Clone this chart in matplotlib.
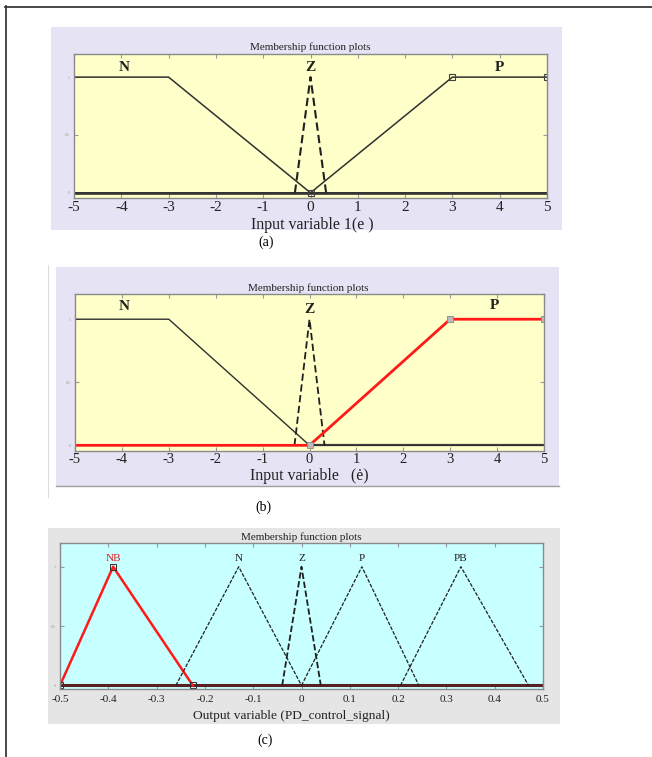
import numpy as np
import matplotlib
matplotlib.use("Agg")
import matplotlib.pyplot as plt
from matplotlib.patches import Rectangle
from matplotlib.lines import Line2D

plt.rcParams['font.family'] = ['Liberation Serif', 'DejaVu Serif']

# input variable e (panel a) - membership function breakpoints
e_N_x = [-5, -3, 0, 5]
e_N_y = [1, 1, 0, 0]
e_Z_x = [-0.33, 0, 0.33]
e_Z_y = [0, 1, 0]
e_P_x = [-5, 0, 3, 5]
e_P_y = [0, 0, 1, 1]

# input variable de (panel b)
de_N_x = [-5, -3, 0, 5]
de_N_y = [1, 1, 0, 0]
de_Z_x = [-0.32, 0, 0.32]
de_Z_y = [0, 1, 0]
de_P_x = [-5, 0, 3, 5]
de_P_y = [0, 0, 1, 1]

# output variable (panel c) - triangles [left, peak, right]
out_names = ['NB', 'N', 'Z', 'P', 'PB']
out_left = [-0.5, -0.26, -0.04, 0.0, 0.205]
out_peak = [-0.39, -0.13, 0.0, 0.125, 0.33]
out_right = [-0.225, 0.0, 0.04, 0.243, 0.47]

in_ticks = [-5, -4, -3, -2, -1, 0, 1, 2, 3, 4, 5]
out_ticks = [-0.5, -0.4, -0.3, -0.2, -0.1, 0, 0.1, 0.2, 0.3, 0.4, 0.5]
out_ticklabels = ['-0.5', '-0.4', '-0.3', '-0.2', '-0.1', '0', '0.1', '0.2', '0.3', '0.4', '0.5']

W, H = 652, 757
fig = plt.figure(figsize=(W / 100, H / 100), dpi=100)
fig.patch.set_facecolor('white')


def fx(x):
    return x / W


def fy(y):
    return 1 - y / H


def bg(l, t, r, b, color):
    fig.add_artist(Rectangle((fx(l), fy(b)), fx(r - l), (b - t) / H,
                             transform=fig.transFigure, facecolor=color,
                             edgecolor='none', zorder=-5))


def px_axes(l, t, r, b):
    return fig.add_axes([fx(l), fy(b), fx(r - l), (b - t) / H])


def style_axes(ax, face, xlim, ylim, ticks, ticklabels, tsize, tpad):
    ax.set_facecolor(face)
    ax.set_xlim(*xlim)
    ax.set_ylim(*ylim)
    ax.set_xticks(ticks)
    ax.set_xticklabels(ticklabels, fontsize=tsize, color='#222222')
    ax.set_yticks([0, 0.5, 1])
    ax.set_yticklabels(['0', '0.5', '1'])
    ax.tick_params(axis='x', direction='in', length=3, top=True, pad=tpad,
                   color='#999999')
    ax.tick_params(axis='y', direction='in', length=3, right=True, pad=3,
                   labelsize=3, labelcolor='#999999', color='#999999')
    for s in ax.spines.values():
        s.set_color('#8a8a8a')
        s.set_linewidth(1.0)


# outer frame
fig.add_artist(Line2D([fx(5), fx(652)], [fy(6.5), fy(6.5)], color='#3a3a3a', lw=1.3))
fig.add_artist(Line2D([fx(6), fx(6)], [fy(6), fy(757)], color='#3a3a3a', lw=1.3))

# ---- panel (a) ----
bg(51, 27, 562, 230, '#e6e3f4')
ax = px_axes(74, 54, 547, 198)
style_axes(ax, '#ffffc9', (-5, 5), (-0.045, 1.2), in_ticks,
           [str(t) for t in in_ticks], 11, 2.5)
ax.plot([-5, 5], [0, 0], color='#404040', lw=2.0)
ax.plot(e_N_x, e_N_y, color='#303030', lw=1.1)
ax.plot(e_P_x, e_P_y, color='#303030', lw=1.1)
ax.plot(e_Z_x, e_Z_y, color='#202020', lw=1.5, dashes=(4, 2))
ax.plot([0, 3, 5], [0, 1, 1], ls='none', marker='s', ms=4,
        mfc='none', mec='#404040', mew=0.8)
for lbl, xp in zip(['N', 'Z', 'P'], [-3.95, 0, 4.0]):
    ax.text(xp, 1.08, lbl, ha='center', va='center', fontsize=11,
            fontweight='bold', color='#202020')
fig.text(fx(310), fy(47), 'Membership function plots', ha='center',
         va='center', fontsize=8, color='#222222')
fig.text(fx(312), fy(225), 'Input variable 1(e )', ha='center', va='center',
         fontsize=11.5, color='#222222')
fig.text(fx(266), fy(242), '(a)', ha='center', va='center', fontsize=10)

# ---- panel (b) ----
bg(56, 267, 559, 486, '#e6e3f4')
fig.add_artist(Line2D([fx(56), fx(559)], [fy(486), fy(486)], color='#a0a0a0', lw=1.0))
fig.add_artist(Line2D([fx(48), fx(48)], [fy(265), fy(497)], color='#dddddd', lw=0.8))
ax = px_axes(75, 294, 544, 451)
style_axes(ax, '#ffffc9', (-5, 5), (-0.045, 1.2), in_ticks,
           [str(t) for t in in_ticks], 10.5, 1.5)
ax.plot([0, 5], [0, 0], color='#404040', lw=1.6)
ax.plot(de_N_x, de_N_y, color='#303030', lw=1.0)
ax.plot(de_Z_x, de_Z_y, color='#202020', lw=1.3, dashes=(4, 2))
ax.plot(de_P_x, de_P_y, color='#ff1a1a', lw=2.0)
ax.plot([0, 3, 5], [0, 1, 1], ls='none', marker='s', ms=4,
        mfc='#bbbbbb', mec='#888888', mew=0.6)
for lbl, xp, yp in zip(['N', 'Z', 'P'], [-3.95, 0, 3.95], [1.1, 1.08, 1.11]):
    ax.text(xp, yp, lbl, ha='center', va='center', fontsize=11,
            fontweight='bold', color='#202020')
fig.text(fx(308), fy(288), 'Membership function plots', ha='center',
         va='center', fontsize=8, color='#222222')
fig.text(fx(309), fy(476), 'Input variable   (ė)', ha='center', va='center',
         fontsize=11.5, color='#222222')
fig.text(fx(263), fy(507), '(b)', ha='center', va='center', fontsize=10)

# ---- panel (c) ----
bg(48, 528, 560, 724, '#e5e5e5')
ax = px_axes(60, 543, 543, 689)
style_axes(ax, '#c8ffff', (-0.5, 0.5), (-0.03, 1.2), out_ticks,
           out_ticklabels, 8, 4)
ax.plot([-0.5, 0.5], [0, 0], color='#5a2020', lw=2.2)
for i, name in enumerate(out_names):
    xs = [out_left[i], out_peak[i], out_right[i]]
    ys = [0, 1, 0]
    if name == 'NB':
        ax.plot(xs, ys, color='#ff1a1a', lw=1.8)
        ax.plot(xs, ys, ls='none', marker='s', ms=5, mfc='none',
                mec='#303030', mew=0.7)
        col = '#e02020'
    elif name == 'Z':
        ax.plot(xs, ys, color='#202020', lw=1.3, dashes=(3.5, 1.5))
        col = '#202020'
    else:
        ax.plot(xs, ys, color='#202020', lw=0.9, dashes=(3, 1.2))
        col = '#202020'
    ax.text(out_peak[i], 1.07, name, ha='center', va='center', fontsize=8,
            color=col)
fig.text(fx(301), fy(537), 'Membership function plots', ha='center',
         va='center', fontsize=8, color='#222222')
fig.text(fx(291), fy(716), 'Output variable (PD_control_signal)', ha='center',
         va='center', fontsize=9.6, color='#222222')
fig.text(fx(265), fy(740), '(c)', ha='center', va='center', fontsize=10)

fig.savefig('out.png', dpi=100)
